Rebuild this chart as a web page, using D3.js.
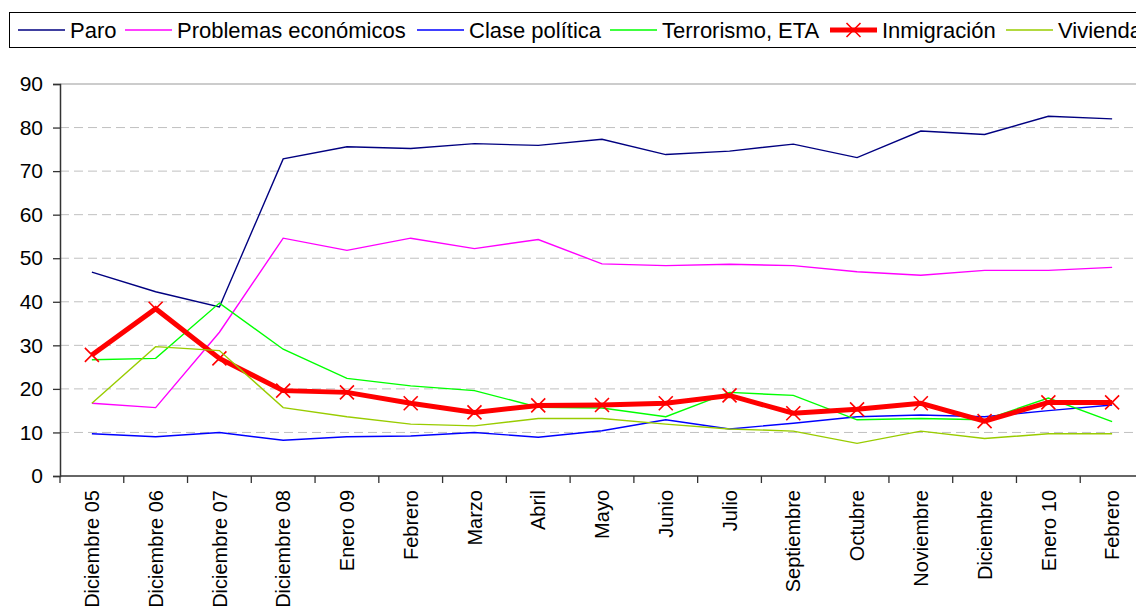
<!DOCTYPE html>
<html>
<head>
<meta charset="utf-8">
<script src="https://cdn.jsdelivr.net/npm/d3@7"></script>
<style>
  html, body { margin: 0; padding: 0; background: #fff; overflow: hidden; }
  svg { display: block; font-family: "Liberation Sans", Arial, sans-serif; }
</style>
</head>
<body>
<svg id="chart" width="1136" height="606"></svg>
<script>
// --- DATA --------------------------------------------------------------------
const categories = ['Diciembre 05', 'Diciembre 06', 'Diciembre 07', 'Diciembre 08', 'Enero 09',
  'Febrero', 'Marzo', 'Abril', 'Mayo', 'Junio', 'Julio', 'Septiembre', 'Octubre',
  'Noviembre', 'Diciembre', 'Enero 10', 'Febrero '];

const paro        = [46.8, 42.3, 38.8, 72.8, 75.6, 75.2, 76.3, 75.9, 77.3, 73.8, 74.6, 76.2, 73.1, 79.2, 78.4, 82.6, 82.0];
const problemas   = [16.7, 15.7, 33.0, 54.6, 51.8, 54.6, 52.2, 54.3, 48.7, 48.3, 48.6, 48.3, 46.9, 46.1, 47.2, 47.2, 47.9];
const clase       = [9.7, 9.0, 10.0, 8.2, 9.0, 9.2, 10.0, 8.9, 10.4, 12.9, 10.8, 12.1, 13.6, 14.0, 13.6, 15.0, 16.3];
const terrorismo  = [26.7, 27.0, 39.7, 29.1, 22.4, 20.7, 19.6, 15.8, 15.6, 13.6, 19.2, 18.5, 12.9, 13.2, 12.9, 17.9, 12.5];
const inmigracion = [27.8, 38.4, 27.0, 19.6, 19.2, 16.7, 14.6, 16.2, 16.3, 16.7, 18.5, 14.4, 15.3, 16.7, 12.6, 16.9, 16.9];
const vivienda    = [16.7, 29.7, 28.8, 15.7, 13.6, 11.9, 11.5, 13.2, 13.2, 11.9, 10.8, 10.3, 7.5, 10.3, 8.6, 9.7, 9.7];

const yTicks = [0, 10, 20, 30, 40, 50, 60, 70, 80, 90];

const series = [
  { name: 'Paro',                 values: paro,        color: '#000080', width: 1.4 },
  { name: 'Problemas económicos', values: problemas,   color: '#FF00FF', width: 1.4 },
  { name: 'Clase política',       values: clase,       color: '#0000FF', width: 1.4 },
  { name: 'Terrorismo, ETA',      values: terrorismo,  color: '#00FF00', width: 1.4 },
  { name: 'Inmigración',          values: inmigracion, color: '#FF0000', width: 5, marker: true },
  { name: 'Vivienda',             values: vivienda,    color: '#99CC00', width: 1.4 },
];

// --- LAYOUT ------------------------------------------------------------------
const PLOT = { left: 60, top: 84, right: 1144, bottom: 476 };
const LEGEND_X = [18, 125, 417, 610, 830, 1006];
const LEGEND_Y = 30;
const FONT_LEGEND = 22;
const FONT_Y = 21;
const FONT_X = 20;

const svg = d3.select('#chart');

const x = d3.scaleBand().domain(categories).range([PLOT.left, PLOT.right]).paddingInner(0).paddingOuter(0);
const y = d3.scaleLinear().domain([0, 90]).range([PLOT.bottom, PLOT.top]);
const cx = c => x(c) + x.bandwidth() / 2;

// gridlines
svg.append('g')
  .selectAll('line')
  .data(yTicks.filter(t => t > 0 && t < 90))
  .join('line')
  .attr('x1', PLOT.left).attr('x2', PLOT.right)
  .attr('y1', d => y(d)).attr('y2', d => y(d))
  .attr('stroke', '#c0c0c0').attr('stroke-width', 1)
  .attr('stroke-dasharray', '9,5');

// plot top border
svg.append('line')
  .attr('x1', PLOT.left).attr('x2', PLOT.right)
  .attr('y1', y(90)).attr('y2', y(90))
  .attr('stroke', '#9a9a9a').attr('stroke-width', 1.2);

// y axis
const yAxis = svg.append('g')
  .attr('transform', `translate(${PLOT.left},0)`)
  .call(d3.axisLeft(y).tickValues(yTicks).tickSize(7).tickPadding(10));
yAxis.select('.domain').attr('stroke', '#333').attr('stroke-width', 1.5);
yAxis.selectAll('.tick line').attr('stroke', '#333').attr('stroke-width', 1.3);
yAxis.selectAll('.tick text')
  .attr('font-size', FONT_Y).attr('font-family', '"Liberation Sans", Arial, sans-serif')
  .attr('fill', '#000');

// x axis line + boundary ticks
svg.append('line')
  .attr('x1', PLOT.left).attr('x2', PLOT.right)
  .attr('y1', y(0)).attr('y2', y(0))
  .attr('stroke', '#333').attr('stroke-width', 1.5);
svg.append('g')
  .selectAll('line')
  .data(categories.map(c => x(c)).concat([PLOT.right]))
  .join('line')
  .attr('x1', d => d).attr('x2', d => d)
  .attr('y1', y(0)).attr('y2', y(0) + 7)
  .attr('stroke', '#333').attr('stroke-width', 1.3);

// x labels (rotated)
svg.append('g')
  .selectAll('text')
  .data(categories)
  .join('text')
  .attr('transform', d => `translate(${cx(d)},${y(0) + 14}) rotate(-90)`)
  .attr('text-anchor', 'end')
  .attr('dy', '0.36em')
  .attr('font-size', FONT_X)
  .attr('fill', '#000')
  .text(d => d.trim());

// lines
const line = vals => d3.line()
  .x((v, i) => cx(categories[i]))
  .y(v => y(v))(vals);

const crossPath = s => `M${-s},${-s}L${s},${s}M${-s},${s}L${s},${-s}`;

series.forEach(s => {
  svg.append('path')
    .attr('d', line(s.values))
    .attr('fill', 'none')
    .attr('stroke', s.color)
    .attr('stroke-width', s.width)
    .attr('stroke-linejoin', 'miter');
  if (s.marker) {
    svg.append('g')
      .selectAll('path')
      .data(s.values)
      .join('path')
      .attr('transform', (v, i) => `translate(${cx(categories[i])},${y(v)})`)
      .attr('d', crossPath(7))
      .attr('stroke', s.color)
      .attr('stroke-width', 1.6)
      .attr('fill', 'none');
  }
});

// legend
svg.append('rect')
  .attr('x', 9.5).attr('y', 12.5)
  .attr('width', 1200).attr('height', 35)
  .attr('fill', '#fff')
  .attr('stroke', '#000').attr('stroke-width', 1);

const leg = svg.append('g')
  .selectAll('g')
  .data(series)
  .join('g')
  .attr('transform', (d, i) => `translate(${LEGEND_X[i]},${LEGEND_Y})`);

leg.append('line')
  .attr('x1', 0).attr('x2', 47)
  .attr('stroke', d => d.color)
  .attr('stroke-width', d => d.marker ? 5 : 1.4);
leg.filter(d => d.marker)
  .append('path')
  .attr('transform', 'translate(23.5,0)')
  .attr('d', crossPath(7))
  .attr('stroke', d => d.color)
  .attr('stroke-width', 1.6);
leg.append('text')
  .attr('x', 52)
  .attr('dy', '0.36em')
  .attr('font-size', FONT_LEGEND)
  .attr('fill', '#000')
  .text(d => d.name);
</script>
</body>
</html>
